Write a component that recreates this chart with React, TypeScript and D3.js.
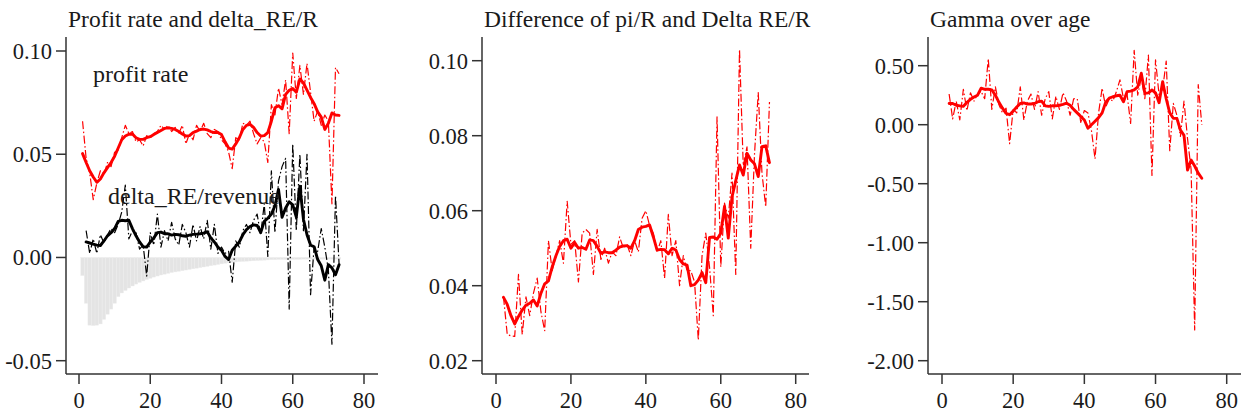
import React from "react";
import * as d3 from "d3";

// ---- data -------------------------------------------------------------
// Panel 1: profit rate (ages 1..73), raw and smoothed
const profitAges = d3.range(1, 74);
const profitRaw = [
  0.066, 0.048, 0.041, 0.028, 0.036, 0.042, 0.040, 0.046, 0.044, 0.051,
  0.052, 0.058, 0.064, 0.060, 0.061, 0.056, 0.057, 0.054, 0.059, 0.058,
  0.060, 0.061, 0.064, 0.062, 0.064, 0.061, 0.063, 0.060, 0.064, 0.055,
  0.060, 0.057, 0.064, 0.061, 0.065, 0.060, 0.058, 0.062, 0.061, 0.057,
  0.055, 0.051, 0.043, 0.058, 0.057, 0.065, 0.064, 0.066, 0.060, 0.055,
  0.058, 0.056, 0.046, 0.074, 0.069, 0.082, 0.074, 0.086, 0.060, 0.099,
  0.077, 0.093, 0.079, 0.094, 0.080, 0.066, 0.071, 0.064, 0.069, 0.066,
  0.026, 0.092, 0.089,
];
const profitSmooth = [
  0.0503, 0.046, 0.042, 0.039, 0.0364, 0.038, 0.041, 0.0435, 0.046, 0.049,
  0.053, 0.057, 0.0588, 0.0597, 0.0598, 0.058, 0.0572, 0.0572, 0.058, 0.0585,
  0.0595, 0.0605, 0.0615, 0.0625, 0.0628, 0.0625, 0.062, 0.061, 0.0598, 0.0588,
  0.059, 0.0605, 0.0612, 0.062, 0.0622, 0.0618, 0.061, 0.0605, 0.0605, 0.0595,
  0.056, 0.053, 0.0525, 0.055, 0.058, 0.062, 0.064, 0.0645, 0.063, 0.0605,
  0.0588, 0.059, 0.0605, 0.066, 0.0725, 0.0735, 0.072, 0.079, 0.081, 0.0818,
  0.080, 0.0865, 0.0845, 0.081, 0.0775, 0.0745, 0.0705, 0.068, 0.062, 0.065,
  0.070, 0.069, 0.0688,
];

// Panel 1: delta_RE / revenue (ages 2..73), raw and smoothed
const deltaAges = d3.range(2, 74);
const deltaRaw = [
  0.013, 0.002, 0.009, 0.002, 0.011, 0.007, 0.011, 0.014, 0.012, 0.016,
  0.022, 0.035, 0.009, 0.013, 0.012, 0.004, 0.006, -0.009, 0.012, 0.006,
  0.021, 0.005, 0.013, 0.008, 0.017, 0.009, 0.006, 0.016, 0.012, 0.005,
  0.016, 0.008, 0.015, 0.009, 0.018, 0.004, 0.016, 0.002, 0.005, 0.002,
  0.003, -0.012, 0.008, 0.005, 0.013, 0.016, 0.012, 0.018, 0.021, 0.011,
  0.026, 0.0005, 0.042, 0.012, 0.037, 0.044, 0.048, -0.025, 0.055, 0.013,
  0.050, 0.013, 0.050, -0.018, 0.005, 0.003, 0.014, 0.005, -0.006, -0.042,
  0.030, -0.003,
];
const deltaSmooth = [
  0.0075, 0.007, 0.0065, 0.006, 0.0058, 0.008, 0.0105, 0.012, 0.014, 0.0175,
  0.018, 0.0178, 0.018, 0.014, 0.0105, 0.0075, 0.0052, 0.005, 0.0075, 0.0095,
  0.012, 0.0123, 0.0115, 0.0115, 0.0108, 0.0112, 0.011, 0.0105, 0.0103, 0.0108,
  0.0112, 0.0113, 0.0115, 0.0118, 0.0125, 0.0095, 0.0075, 0.005, 0.0035, 0.0005,
  -0.001, 0.0035, 0.0055, 0.0075, 0.011, 0.0135, 0.015, 0.0158, 0.0155, 0.012,
  0.0175, 0.019, 0.021, 0.025, 0.033, 0.0195, 0.024, 0.027, 0.0255, 0.0195,
  0.0345, 0.0185, 0.011, 0.006, 0.0052, -0.001, -0.004, -0.011, -0.0035, -0.005,
  -0.0084, -0.0035,
];

// Panel 1: grey bars (ages 1..73)
const barAges = d3.range(1, 74);
const barValues = [
  -0.0088, -0.0222, -0.0328, -0.0330, -0.0328, -0.0322, -0.0300, -0.0275, -0.0250, -0.0222,
  -0.0190, -0.0172, -0.0160, -0.0148, -0.0138, -0.0129, -0.0121, -0.0114, -0.0107, -0.0101,
  -0.0095, -0.0090, -0.0085, -0.0081, -0.0077, -0.0073, -0.0070, -0.0067, -0.0064, -0.0061,
  -0.0058, -0.0055, -0.0052, -0.0049, -0.0046, -0.0043, -0.0040, -0.0037, -0.0034, -0.0031,
  -0.0028, -0.0026, -0.0024, -0.0022, -0.0020, -0.0019, -0.0018, -0.0017, -0.0016, -0.0015,
  -0.0014, -0.0013, -0.0012, -0.0011, -0.0011, -0.0010, -0.0010, -0.0010, -0.0009, -0.0009,
  -0.0009, -0.0009, -0.0008, -0.0008, -0.0008, -0.0008, -0.0008, -0.0008, -0.0008, -0.0008,
  -0.0008, -0.0008, -0.0008,
];

// Panel 2: difference of pi/R and delta RE/R (ages 2..73)
const diffAges = d3.range(2, 74);
const diffRaw = [
  0.037, 0.027, 0.0266, 0.0265, 0.043, 0.027, 0.037, 0.032, 0.038, 0.042,
  0.033, 0.028, 0.052, 0.044, 0.048, 0.052, 0.046, 0.0625, 0.051, 0.052,
  0.041, 0.054, 0.055, 0.054, 0.043, 0.055, 0.047, 0.050, 0.046, 0.049,
  0.048, 0.053, 0.050, 0.051, 0.048, 0.052, 0.049, 0.058, 0.060, 0.056,
  0.054, 0.049, 0.052, 0.042, 0.059, 0.048, 0.052, 0.040, 0.048, 0.044,
  0.044, 0.041, 0.0255, 0.048, 0.054, 0.045, 0.032, 0.085, 0.045, 0.062,
  0.058, 0.070, 0.043, 0.103, 0.072, 0.077, 0.050, 0.075, 0.0915, 0.070,
  0.061, 0.089,
];
const diffSmooth = [
  0.0369, 0.035, 0.032, 0.0298, 0.0318, 0.0335, 0.0348, 0.0353, 0.0362, 0.0346,
  0.038, 0.0405, 0.0413, 0.045, 0.048, 0.0505, 0.052, 0.0524, 0.050, 0.0515,
  0.050, 0.0502, 0.0497, 0.0522, 0.052, 0.0505, 0.0486, 0.049, 0.0488, 0.0488,
  0.0495, 0.0503, 0.0506, 0.0507, 0.050, 0.052, 0.055, 0.0556, 0.0558, 0.0562,
  0.053, 0.0495, 0.0497, 0.0496, 0.0485, 0.050, 0.0495, 0.047, 0.0458, 0.0455,
  0.040, 0.0403, 0.0415, 0.0435, 0.0408, 0.0529, 0.053, 0.0524, 0.054, 0.0611,
  0.0527, 0.0637, 0.068, 0.0722, 0.0695, 0.0753, 0.0735, 0.0725, 0.0691, 0.0771,
  0.0773, 0.0728,
];

// Panel 3: gamma over age (ages 2..73)
const gammaAges = d3.range(2, 74);
const gammaRaw = [
  0.26, 0.05, 0.20, 0.04, 0.30, 0.12, 0.27, 0.20, 0.26, 0.28,
  0.22, 0.56, 0.13, 0.32, 0.17, 0.10, 0.14, -0.16, 0.13, 0.10,
  0.32, 0.04, 0.20, 0.26, 0.13, 0.28, 0.08, 0.22, 0.28, 0.05,
  0.24, 0.13, 0.27, 0.20, 0.08, 0.22, 0.22, 0.02, 0.12, 0.10,
  -0.05, -0.29, 0.10, 0.31, 0.15, 0.22, 0.20, 0.28, 0.38, 0.22,
  0.26, 0.01, 0.63, 0.25, 0.40, 0.22, 0.59, -0.43, 0.55, 0.25,
  0.30, 0.54, -0.22, 0.18, 0.08, -0.10, 0.20, -0.12, -0.38, -1.74,
  0.34, 0.0,
];
const gammaSmooth = [
  0.18, 0.18, 0.165, 0.16, 0.155, 0.19, 0.215, 0.235, 0.25, 0.31,
  0.30, 0.30, 0.295, 0.25, 0.19, 0.14, 0.095, 0.085, 0.115, 0.15,
  0.18, 0.185, 0.175, 0.175, 0.18, 0.195, 0.20, 0.16, 0.155, 0.16,
  0.16, 0.165, 0.172, 0.182, 0.165, 0.13, 0.10, 0.07, 0.04, -0.03,
  0.0, 0.03, 0.06, 0.10, 0.19, 0.225, 0.237, 0.245, 0.25, 0.195,
  0.28, 0.285, 0.295, 0.32, 0.436, 0.266, 0.27, 0.294, 0.27, 0.186,
  0.364, 0.22, 0.10, 0.054, 0.054, -0.045, -0.09, -0.384, -0.30, -0.35,
  -0.41, -0.454,
];

// Tick values
const xTicks = [0, 20, 40, 60, 80];
const p1YTicks = [0.1, 0.05, 0.0, -0.05];
const p2YTicks = [0.1, 0.08, 0.06, 0.04, 0.02];
const p3YTicks = [0.5, 0.0, -0.5, -1.0, -1.5, -2.0];

// Titles and labels
const titles = [
  "Profit rate and delta_RE/R",
  "Difference of pi/R and Delta RE/R",
  "Gamma over age",
];
const seriesLabels = ["profit rate", "delta_RE/revenue"];

// ---- styling ------------------------------------------------------------
const FONT = "'Liberation Serif', 'Times New Roman', serif";
const TEXT = "#1a1a1a";
const AXIS = "#333";
const RED = "#ff0000";
const RAW_DASH = "8,2.5,1.5,2.5";

type Panel = {
  x0: number; // pixel for age 0
  x80: number; // pixel for age 80
  yTop: [number, number]; // [value, pixel]
  yBot: [number, number];
  axisX: number; // y-axis line position
  axisRight: number; // end of x-axis line
  yTicks: number[];
  fmt: (v: number) => string;
  title: string;
};

const AXIS_TOP = 37;
const AXIS_BOTTOM = 374;

const fmt2 = (v: number) => (v < 0 ? "-" : "") + Math.abs(v).toFixed(2);

const panels: Panel[] = [
  { x0: 79, x80: 364, yTop: [0.1, 51], yBot: [-0.05, 360.7], axisX: 66, axisRight: 378, yTicks: p1YTicks, fmt: fmt2, title: titles[0] },
  { x0: 496, x80: 795.7, yTop: [0.1, 60.7], yBot: [0.02, 360.7], axisX: 482, axisRight: 809, yTicks: p2YTicks, fmt: fmt2, title: titles[1] },
  { x0: 942, x80: 1226.7, yTop: [0.5, 65.7], yBot: [-2.0, 360.7], axisX: 928, axisRight: 1241, yTicks: p3YTicks, fmt: fmt2, title: titles[2] },
];

function scalesFor(p: Panel) {
  const x = d3.scaleLinear().domain([0, 80]).range([p.x0, p.x80]);
  const y = d3.scaleLinear().domain([p.yBot[0], p.yTop[0]]).range([p.yBot[1], p.yTop[1]]);
  return { x, y };
}

function Axes({ p }: { p: Panel }) {
  const { x, y } = scalesFor(p);
  return (
    <g>
      <text x={p.axisX + 2} y={27} fontFamily={FONT} fontSize={23.5} fill={TEXT}>
        {p.title}
      </text>
      <line x1={p.axisX} x2={p.axisX} y1={AXIS_TOP} y2={AXIS_BOTTOM} stroke={AXIS} strokeWidth={1.5} />
      <line x1={p.axisX} x2={p.axisRight} y1={AXIS_BOTTOM} y2={AXIS_BOTTOM} stroke={AXIS} strokeWidth={1.5} />
      {p.yTicks.map((t) => (
        <g key={"y" + t}>
          <line x1={p.axisX - 10} x2={p.axisX} y1={y(t)} y2={y(t)} stroke={AXIS} strokeWidth={1.5} />
          <text x={p.axisX - 14} y={y(t)} dy="0.35em" textAnchor="end" fontFamily={FONT} fontSize={22.5} fill={TEXT}>
            {p.fmt(t)}
          </text>
        </g>
      ))}
      {xTicks.map((t) => (
        <g key={"x" + t}>
          <line x1={x(t)} x2={x(t)} y1={AXIS_BOTTOM} y2={AXIS_BOTTOM + 10} stroke={AXIS} strokeWidth={1.5} />
          <text x={x(t)} y={408} textAnchor="middle" fontFamily={FONT} fontSize={22.5} fill={TEXT}>
            {t}
          </text>
        </g>
      ))}
    </g>
  );
}

function Series({ p, ages, values, color, raw }: { p: Panel; ages: number[]; values: number[]; color: string; raw: boolean }) {
  const { x, y } = scalesFor(p);
  const line = d3
    .line<number>()
    .x((_, i) => x(ages[i]))
    .y((v) => y(v));
  return (
    <path
      d={line(values) || ""}
      fill="none"
      stroke={color}
      strokeWidth={raw ? 1.2 : 2.9}
      strokeDasharray={raw ? RAW_DASH : undefined}
      strokeLinejoin="round"
      strokeLinecap={raw ? "butt" : "round"}
    />
  );
}

export default function App() {
  const p1 = panels[0];
  const s1 = scalesFor(p1);
  const barW = s1.x(1) - s1.x(0);
  return (
    <svg
      width={1246}
      height={416}
      viewBox="0 0 1246 416"
      style={{ position: "absolute", left: 0, top: 0, background: "#fff" }}
    >
      <rect width={1246} height={416} fill="#fff" />

      {/* Panel 1 */}
      <g>
        {barAges.map((a, i) => (
          <rect
            key={a}
            x={s1.x(a) - barW / 2}
            y={s1.y(0)}
            width={barW}
            height={s1.y(barValues[i]) - s1.y(0)}
            fill="#e4e4e4"
            stroke="#ededed"
            strokeWidth={0.4}
          />
        ))}
        <Series p={p1} ages={profitAges} values={profitRaw} color={RED} raw />
        <Series p={p1} ages={deltaAges} values={deltaRaw} color="#000" raw />
        <Series p={p1} ages={profitAges} values={profitSmooth} color={RED} raw={false} />
        <Series p={p1} ages={deltaAges} values={deltaSmooth} color="#000" raw={false} />
        <text x={93} y={82} fontFamily={FONT} fontSize={24} fill={TEXT}>
          {seriesLabels[0]}
        </text>
        <text x={108} y={204} fontFamily={FONT} fontSize={24} fill={TEXT}>
          {seriesLabels[1]}
        </text>
        <Axes p={p1} />
      </g>

      {/* Panel 2 */}
      <g>
        <Series p={panels[1]} ages={diffAges} values={diffRaw} color={RED} raw />
        <Series p={panels[1]} ages={diffAges} values={diffSmooth} color={RED} raw={false} />
        <Axes p={panels[1]} />
      </g>

      {/* Panel 3 */}
      <g>
        <Series p={panels[2]} ages={gammaAges} values={gammaRaw} color={RED} raw />
        <Series p={panels[2]} ages={gammaAges} values={gammaSmooth} color={RED} raw={false} />
        <Axes p={panels[2]} />
      </g>
    </svg>
  );
}
